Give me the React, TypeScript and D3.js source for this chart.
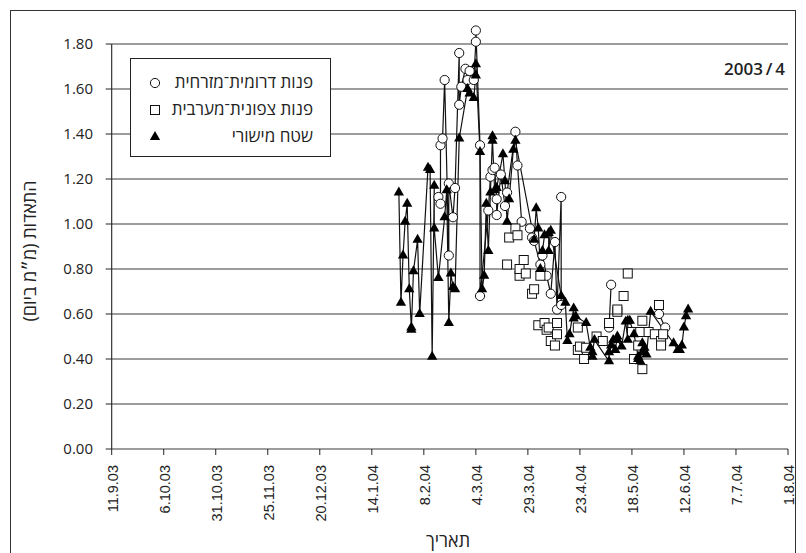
import React from "react";
import * as d3 from "d3";

const W = 806;
const H = 553;

const tickDates = [
  "2003-09-11", "2003-10-06", "2003-10-31", "2003-11-25", "2003-12-20", "2004-01-14", "2004-02-08",
  "2004-03-04", "2004-03-29", "2004-04-23", "2004-05-18", "2004-06-12", "2004-07-07", "2004-08-01",
];
const yTicks = [0, 0.2, 0.4, 0.6, 0.8, 1.0, 1.2, 1.4, 1.6, 1.8];
const seriesNames = ["פנות דרומית־מזרחית", "פנות צפונית־מערבית", "שטח מישורי"];
const yTitle = "התאדות (מ״מ ביום)";
const xTitle = "תאריך";
const yearLabel = "2003\u2009/\u20094";

type P = [string, number | null];

// פנות דרומית־מזרחית (circles, connected)
const seCorner: P[] = [
  ["2004-02-15", 1.12], ["2004-02-16", 1.09], ["2004-02-16", 1.35], ["2004-02-17", 1.38], ["2004-02-18", 1.64],
  ["2004-02-20", 0.86], ["2004-02-20", 1.18], ["2004-02-22", 1.03], ["2004-02-23", 1.16], ["2004-02-25", 1.76],
  ["2004-02-25", 1.53], ["2004-02-26", 1.61], ["2004-02-28", 1.69], ["2004-02-29", 1.64], ["2004-03-01", 1.68],
  ["2004-03-03", 1.64], ["2004-03-04", 1.81], ["2004-03-04", 1.86], ["2004-03-06", 1.35], ["2004-03-06", 0.68],
  ["2004-03-10", 1.06], ["2004-03-11", 1.21], ["2004-03-12", 1.24], ["2004-03-13", 1.25], ["2004-03-14", 1.11],
  ["2004-03-14", 1.04], ["2004-03-16", 1.22], ["2004-03-18", 1.08], ["2004-03-19", 1.14], ["2004-03-23", 1.41],
  ["2004-03-24", 1.26], ["2004-03-26", 1.01], ["2004-03-30", 0.98], ["2004-03-31", 0.94], ["2004-04-01", 0.925],
  ["2004-04-04", 0.82], ["2004-04-05", 0.86], ["2004-04-07", 0.77], ["2004-04-09", 0.69], ["2004-04-11", 0.92],
  ["2004-04-12", 0.62], ["2004-04-14", 1.12], ["2004-04-14", 0.64], ["2004-04-20", null],
  ["2004-05-07", 0.54], ["2004-05-08", 0.73], ["2004-05-20", null],
  ["2004-05-31", 0.60], ["2004-06-03", 0.54],
];

// פנות צפונית־מערבית (squares, markers only)
const nwCorner: P[] = [
  ["2004-03-19", 0.82], ["2004-03-20", 0.94], ["2004-03-23", 0.98], ["2004-03-24", 0.95], ["2004-03-25", 0.77],
  ["2004-03-25", 0.80], ["2004-03-27", 0.84], ["2004-03-28", 0.78], ["2004-03-31", 0.69], ["2004-04-01", 0.71],
  ["2004-04-03", 0.55], ["2004-04-04", 0.77], ["2004-04-06", 0.56], ["2004-04-07", 0.53], ["2004-04-08", 0.54],
  ["2004-04-09", 0.48], ["2004-04-11", 0.46], ["2004-04-12", 0.56], ["2004-04-12", 0.51], ["2004-04-22", 0.54],
  ["2004-04-22", 0.44], ["2004-04-23", 0.455], ["2004-04-25", 0.40], ["2004-04-26", 0.45], ["2004-05-01", 0.50],
  ["2004-05-04", 0.48], ["2004-05-07", 0.56], ["2004-05-11", 0.61], ["2004-05-11", 0.62], ["2004-05-14", 0.68],
  ["2004-05-16", 0.78], ["2004-05-18", 0.52], ["2004-05-19", 0.40], ["2004-05-21", 0.46], ["2004-05-22", 0.52],
  ["2004-05-23", 0.355], ["2004-05-23", 0.57], ["2004-05-26", 0.52], ["2004-05-29", 0.51], ["2004-05-31", 0.64],
  ["2004-06-01", 0.48], ["2004-06-02", 0.51], ["2004-06-01", 0.46],
];

// שטח מישורי (triangles, connected)
const plainArea: P[] = [
  ["2004-01-27", 1.14], ["2004-01-28", 0.65], ["2004-01-29", 0.86], ["2004-01-30", 1.01], ["2004-01-31", 1.09],
  ["2004-02-01", 0.71], ["2004-02-02", 0.54], ["2004-02-02", 0.53], ["2004-02-03", 0.79], ["2004-02-05", 0.93],
  ["2004-02-06", 0.60], ["2004-02-10", 1.25], ["2004-02-11", 1.24], ["2004-02-12", 0.41], ["2004-02-13", 1.17],
  ["2004-02-13", 0.98], ["2004-02-15", 0.76], ["2004-02-18", 1.03], ["2004-02-19", 1.15], ["2004-02-20", 0.56],
  ["2004-02-21", 0.78], ["2004-02-22", 0.72], ["2004-02-23", 0.71], ["2004-02-25", 1.38], ["2004-02-29", 1.60],
  ["2004-03-01", 1.58], ["2004-03-03", 1.56], ["2004-03-04", 1.66], ["2004-03-04", 1.71], ["2004-03-06", 1.32],
  ["2004-03-07", 0.71], ["2004-03-08", 0.77], ["2004-03-09", 1.09], ["2004-03-10", 0.88], ["2004-03-11", 1.14],
  ["2004-03-12", 1.39], ["2004-03-12", 1.37], ["2004-03-13", 1.15], ["2004-03-14", 1.16], ["2004-03-17", 1.31],
  ["2004-03-18", 1.19], ["2004-03-19", 1.01], ["2004-03-20", 1.11], ["2004-03-22", 1.33], ["2004-03-23", 1.37],
  ["2004-04-01", 0.93], ["2004-04-02", 1.07], ["2004-04-03", 0.98], ["2004-04-04", 0.80], ["2004-04-05", 0.88],
  ["2004-04-06", 0.95], ["2004-04-08", 0.96], ["2004-04-08", 0.88], ["2004-04-09", 0.97], ["2004-04-14", 0.68],
  ["2004-04-16", 0.65], ["2004-04-17", 0.48], ["2004-04-18", 0.51], ["2004-04-20", 0.625], ["2004-04-20", 0.58],
  ["2004-04-21", 0.59], ["2004-04-26", 0.56], ["2004-04-28", 0.45], ["2004-04-29", 0.41], ["2004-04-29", 0.43],
  ["2004-04-30", 0.485], ["2004-05-07", 0.39], ["2004-05-07", 0.43], ["2004-05-08", 0.46], ["2004-05-09", 0.485],
  ["2004-05-10", 0.44], ["2004-05-11", 0.50], ["2004-05-11", 0.485], ["2004-05-13", 0.455], ["2004-05-15", 0.566],
  ["2004-05-16", 0.485], ["2004-05-16", 0.57], ["2004-05-17", 0.57], ["2004-05-19", 0.51], ["2004-05-21", 0.41],
  ["2004-05-21", 0.40], ["2004-05-22", 0.39], ["2004-05-23", 0.47], ["2004-05-23", 0.43], ["2004-05-24", 0.45],
  ["2004-05-25", 0.42], ["2004-05-27", 0.61], ["2004-06-07", 0.47], ["2004-06-09", 0.44], ["2004-06-10", 0.44],
  ["2004-06-11", 0.46], ["2004-06-12", 0.54], ["2004-06-13", 0.59], ["2004-06-14", 0.62],
];

const parse = d3.timeParse("%Y-%m-%d");
const fmtTick = d3.timeFormat("%-d.%-m.%y");

const PL = 111.7, PR = 788, PT = 44, PB = 449;

export default function App() {
  const x = d3.scaleTime().domain([parse(tickDates[0])!, parse(tickDates[tickDates.length - 1])!]).range([PL, PR]);
  const y = d3.scaleLinear().domain([0, 1.8]).range([PB, PT]);

  const line = d3
    .line<P>()
    .defined((d) => d[1] !== null)
    .x((d) => x(parse(d[0])!))
    .y((d) => y(d[1] as number));

  const tri = d3.symbol().type(d3.symbolTriangle).size(46)()!;
  const pts = (s: P[]) => s.filter((d) => d[1] !== null).map((d) => [x(parse(d[0])!), y(d[1] as number)]);

  const font = "'Open Sans', 'Liberation Sans', 'DejaVu Sans', sans-serif";
  const legendRows = [83, 110, 137];

  return (
    <svg width={W} height={H} style={{ position: "absolute", left: 0, top: 0, background: "#fff" }} fontFamily={font}>
      <rect x={10.5} y={10.5} width={785} height={560} fill="#fff" stroke="#333" strokeWidth={1} />
      {/* gridlines */}
      {yTicks.map((t) => (
        <g key={t}>
          <line x1={PL} x2={PR} y1={y(t)} y2={y(t)} stroke="#3a3a3a" strokeWidth={1.1} />
          <line x1={PL - 6} x2={PL} y1={y(t)} y2={y(t)} stroke="#222" strokeWidth={1} />
          <text x={93} y={y(t) + 5} textAnchor="end" fontSize={15} fill="#222">
            {t.toFixed(2)}
          </text>
        </g>
      ))}
      <line x1={PL} x2={PL} y1={PT} y2={PB} stroke="#222" strokeWidth={1.1} />
      {tickDates.map((d) => {
        const tx = x(parse(d)!);
        return (
          <g key={d}>
            <line x1={tx} x2={tx} y1={PB} y2={PB + 6} stroke="#222" />
            <text
              transform={`translate(${tx + 6},465) rotate(-90)`}
              textAnchor="end"
              fontSize={14.5}
              fontFamily="'Liberation Sans', Arial, sans-serif"
              fill="#222"
            >
              {fmtTick(parse(d)!)}
            </text>
          </g>
        );
      })}

      {/* series lines */}
      <path d={line(seCorner)!} fill="none" stroke="#111" strokeWidth={1.2} />
      <path d={line(plainArea)!} fill="none" stroke="#111" strokeWidth={1.2} />

      {/* markers */}
      {pts(seCorner).map(([cx, cy], i) => (
        <circle key={"c" + i} cx={cx} cy={cy} r={4.6} fill="#fff" stroke="#111" strokeWidth={1} />
      ))}
      {pts(nwCorner).map(([cx, cy], i) => (
        <rect key={"s" + i} x={cx - 4.5} y={cy - 4.5} width={9} height={9} fill="#fff" stroke="#111" strokeWidth={1} />
      ))}
      {pts(plainArea).map(([cx, cy], i) => (
        <path key={"t" + i} d={tri} transform={`translate(${cx},${cy})`} fill="#000" />
      ))}

      {/* legend */}
      <rect x={130.5} y={58.5} width={200} height={98} fill="#fff" stroke="#222" strokeWidth={1} />
      <circle cx={155} cy={legendRows[0]} r={4.6} fill="#fff" stroke="#111" />
      <rect x={150.5} y={legendRows[1] - 4.5} width={9} height={9} fill="#fff" stroke="#111" />
      <path d={tri} transform={`translate(155,${legendRows[2]})`} fill="#000" />
      {seriesNames.map((n, i) => (
        <text key={n} x={313} y={legendRows[i] + 5} textAnchor="end" fontSize={17} fill="#222">
          {n}
        </text>
      ))}

      <text x={785} y={75} textAnchor="end" fontSize={17} fontWeight={600} fill="#222">
        {yearLabel}
      </text>
      <text x={448} y={547} textAnchor="middle" fontSize={18} fill="#222">
        {xTitle}
      </text>
      <text transform="translate(36,251) rotate(-90)" textAnchor="middle" fontSize={18} fill="#222" direction="rtl">
        {yTitle}
      </text>
    </svg>
  );
}
